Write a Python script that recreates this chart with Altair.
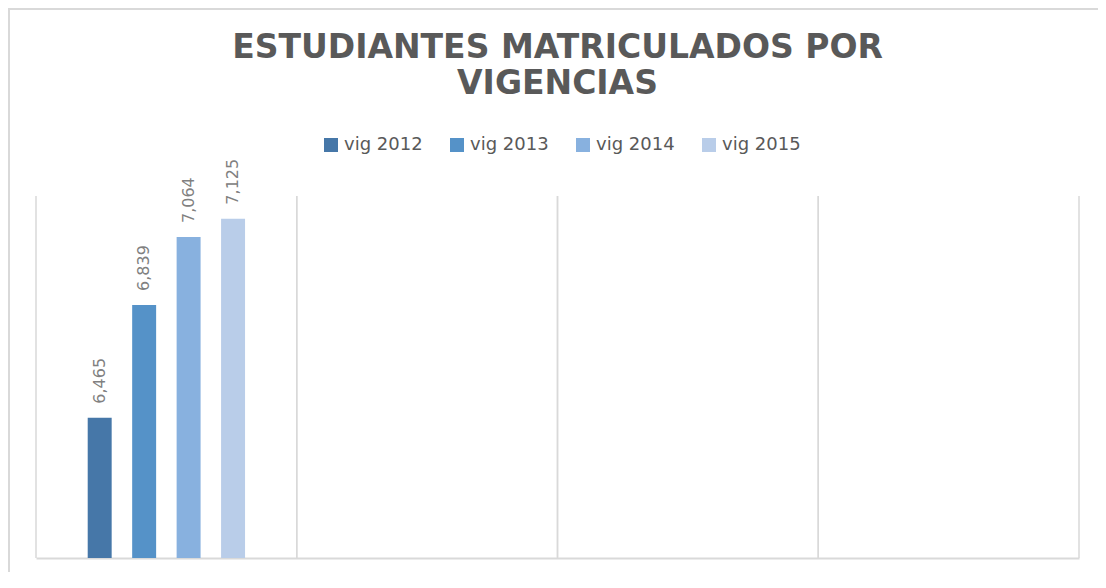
import altair as alt
import pandas as pd

categories = ["c1", "c2", "c3", "c4"]
series = ["vig 2012", "vig 2013", "vig 2014", "vig 2015"]
values = [6465, 6839, 7064, 7125]
colors = ["#4677A8", "#5592C8", "#88B1DF", "#B9CDE9"]
title_lines = ["ESTUDIANTES MATRICULADOS POR", "VIGENCIAS"]

bars_df = pd.DataFrame({"cat": [categories[0]] * len(series), "serie": series, "valor": values})
cats_df = pd.DataFrame({"cat": categories})

W, H = 1043, 362
xscale = alt.Scale(domain=categories, paddingInner=0, paddingOuter=0)
yscale = alt.Scale(domain=[6000, 7200], zero=False, clamp=True)
# empty slots at both ends of the group leave the room Excel leaves around the bars
offset_domain = ["_pad_left"] + series + ["_pad_right"]
xoff = alt.XOffset("serie:N", scale=alt.Scale(domain=offset_domain, paddingInner=0.461, paddingOuter=0.163))

base = alt.Chart(bars_df)

bars = base.mark_bar().encode(
    x=alt.X("cat:N", scale=xscale,
            axis=alt.Axis(title=None, labels=False, ticks=False, grid=False,
                          domainColor="#D9D9D9", domainWidth=2)),
    xOffset=xoff,
    y=alt.Y("valor:Q", scale=yscale, axis=None),
    color=alt.Color("serie:N", scale=alt.Scale(domain=series, range=colors),
                    legend=alt.Legend(title=None, orient="none", direction="horizontal",
                                      legendX=286, legendY=-60,
                                      symbolType="square", symbolSize=196,
                                      symbolStrokeWidth=0, labelFont="DejaVu Sans",
                                      labelFontSize=18, labelColor="#595959",
                                      labelOffset=4, columnPadding=25, padding=0)),
)

labels = base.mark_text(angle=270, align="left", baseline="middle", dx=14,
                        font="DejaVu Sans", fontSize=16, color="#808080").encode(
    x=alt.X("cat:N", scale=xscale),
    xOffset=xoff,
    y=alt.Y("valor:Q", scale=yscale),
    text=alt.Text("valor:Q", format=","),
)

grid0 = alt.Chart(cats_df).mark_rule(color="#D9D9D9", strokeWidth=1.5).encode(
    x=alt.X("cat:N", scale=xscale, bandPosition=0)
)
grid1 = alt.Chart(cats_df).mark_rule(color="#D9D9D9", strokeWidth=1.5).encode(
    x=alt.X("cat:N", scale=xscale, bandPosition=1)
)

border = alt.Chart(alt.Data(values=[{}])).mark_rect(
    fill="transparent", stroke="#D9D9D9", strokeWidth=2).encode(
    x=alt.value(-27), x2=alt.value(W + 80), y=alt.value(-187), y2=alt.value(H + 80)
)

chart = alt.layer(border, grid0, grid1, bars, labels).properties(
    width=W, height=H,
    title=alt.TitleParams(text=title_lines, font="DejaVu Sans", fontSize=33,
                          fontWeight="bold", color="#595959", anchor="middle",
                          frame="group", lineHeight=36, offset=-93),
    autosize=alt.AutoSizeParams(type="none"),
    padding={"left": 28, "top": 188, "right": 19, "bottom": 14},
).configure_view(stroke=None)

chart.save("out.html", embed_options={"renderer": "svg", "actions": False})
